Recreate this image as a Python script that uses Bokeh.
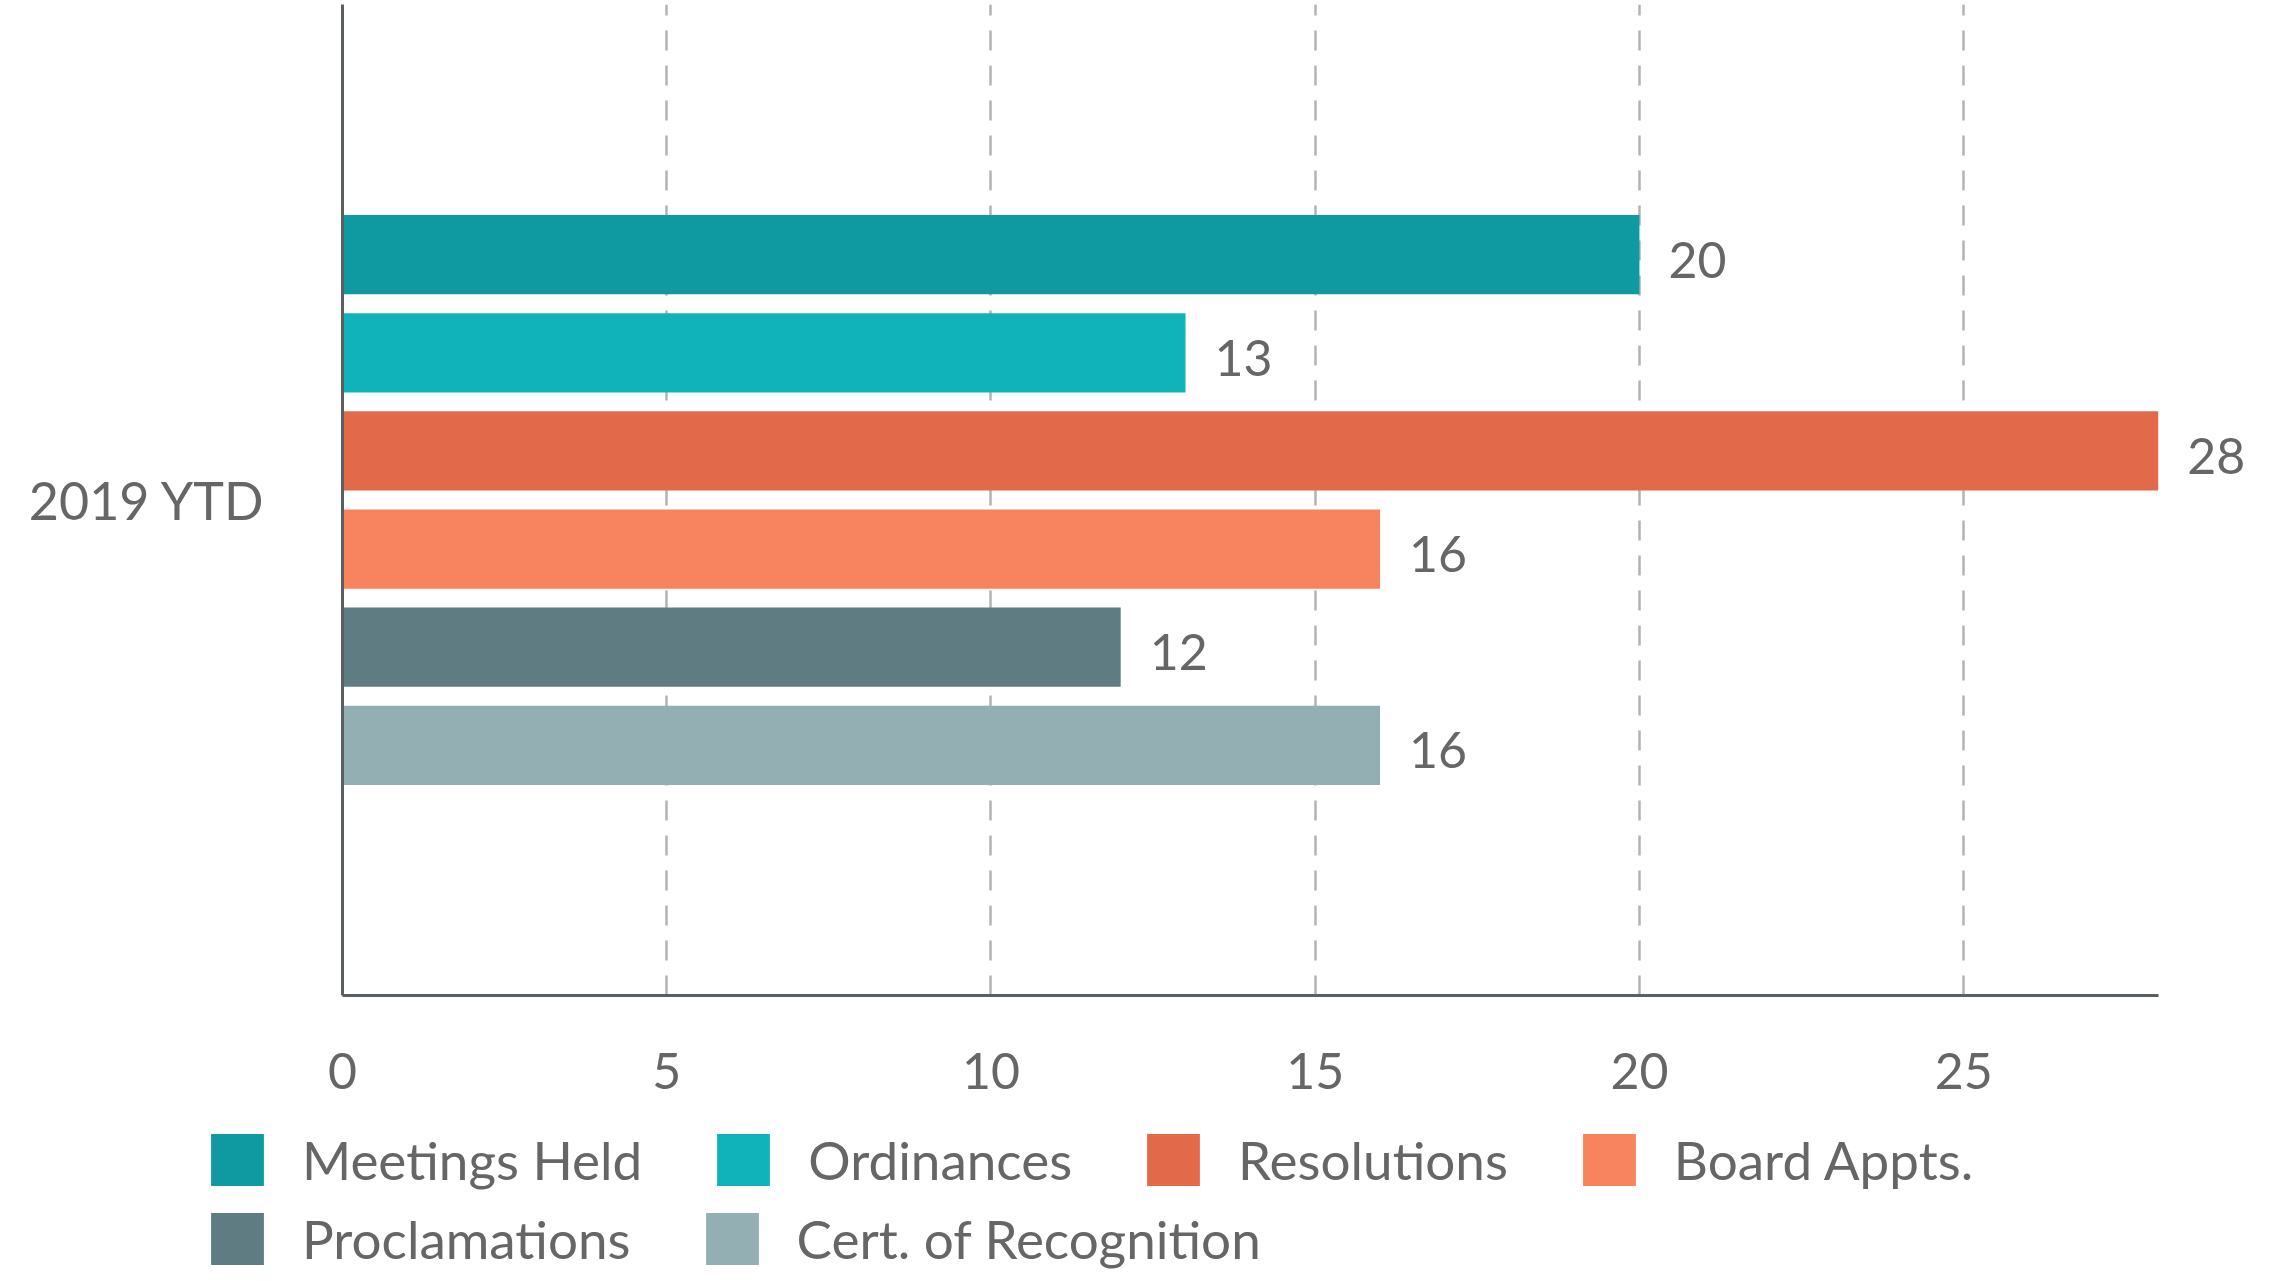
from bokeh.plotting import figure
from bokeh.layouts import column
from bokeh.models import ColumnDataSource, Legend, LegendItem, FactorRange, Range1d, FixedTicker
from bokeh.transform import dodge
from bokeh.core.properties import value
from bokeh.embed import file_html
from bokeh.resources import INLINE

period = ["2019 YTD"]
series = ["Meetings Held", "Ordinances", "Resolutions", "Board Appts.",
          "Proclamations", "Cert. of Recognition"]
counts = [20, 13, 28, 16, 12, 16]
colors = ["#0F9AA2", "#10B3BA", "#E3694B", "#F7835F", "#5E7C82", "#93AFB3"]
x_ticks = [0, 5, 10, 15, 20, 25]
axis_max = 28

TEXT = "#666666"
FONT = "Lato"

W = 2280
H_MAIN = 1110
H_LEG = 166

p = figure(width=W, height=H_MAIN,
           y_range=FactorRange(*period), x_range=Range1d(0, 29.5),
           output_backend="svg", toolbar_location=None,
           min_border_left=342, min_border_right=W - 2255,
           min_border_top=4, min_border_bottom=H_MAIN - 995)
p.outline_line_color = None
p.background_fill_color = "white"
p.frame_align = False

step = 0.099
bar_h = 0.08
renderers = []
sources = []
for i, (s, c, col) in enumerate(zip(series, counts, colors)):
    off = (2.5 - i) * step
    src = ColumnDataSource(dict(period=period, count=[c], label=[str(c)]))
    sources.append(src)
    r = p.hbar(y=dodge("period", off, range=p.y_range), right="count", left=0,
               height=bar_h, source=src, fill_color=col, line_color=None)
    renderers.append(r)
    p.text(x="count", y=dodge("period", off, range=p.y_range), text="label",
           source=src, x_offset=29, y_offset=5, text_baseline="middle",
           text_align="left", text_font=value(FONT), text_font_size="50px",
           text_color=TEXT)

# axes
p.xaxis.ticker = FixedTicker(ticks=x_ticks)
p.xaxis.bounds = (0, axis_max)
p.xgrid.ticker = FixedTicker(ticks=x_ticks)
for ax in (p.xaxis[0], p.yaxis[0]):
    ax.axis_line_color = "#5a5f63"
    ax.axis_line_width = 3
    ax.major_tick_line_color = None
    ax.minor_tick_line_color = None
    ax.major_label_text_font = FONT
    ax.major_label_text_font_size = "50px"
    ax.major_label_text_color = TEXT
p.xaxis.major_label_standoff = 51
p.yaxis.major_label_standoff = 71
p.yaxis.major_label_text_font_size = "52px"

p.ygrid.grid_line_color = None
p.xgrid.grid_line_color = "#b3b3b3"
p.xgrid.grid_line_width = 2.5
p.xgrid.grid_line_dash = "20 15"

# legend figure below the chart (its bars have zero height; only the legend shows)
lf = figure(width=W, height=H_LEG, x_range=Range1d(0, 29.5),
            y_range=FactorRange(*period),
            output_backend="svg", toolbar_location=None,
            x_axis_location=None, y_axis_location=None,
            min_border=0)
lf.frame_align = False
lf.outline_line_color = None
lf.grid.visible = False
leg_renderers = [lf.hbar(y="period", right="count", left=0, height=0, source=src,
                         fill_color=col, line_color=None)
                 for src, col in zip(sources, colors)]
items = [LegendItem(label=s, renderers=[r]) for s, r in zip(series, leg_renderers)]


def make_legend(its, loc):
    return Legend(items=its, orientation="horizontal", location=loc,
                  glyph_width=66, glyph_height=65, label_standoff=32,
                  spacing=68, padding=0, margin=0, label_height=65,
                  label_text_font=FONT, label_text_font_size="53px",
                  label_text_color=TEXT, border_line_alpha=0,
                  background_fill_alpha=0)


lf.add_layout(make_legend(items[:4], (204, 84)))
lf.add_layout(make_legend(items[4:], (204, 5)))

layout = column(p, lf, spacing=0)
open("out.html", "w").write(file_html(layout, INLINE))
